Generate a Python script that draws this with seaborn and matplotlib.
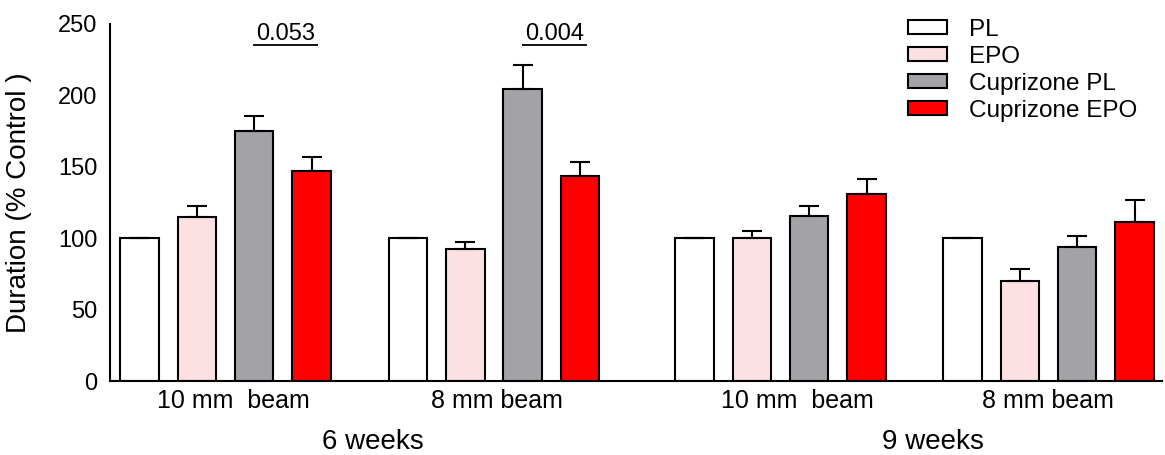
import matplotlib
matplotlib.use("Agg")
import matplotlib.pyplot as plt
import seaborn as sns
import pandas as pd
import numpy as np

# ---- data ----
treatments = ["PL", "EPO", "Cuprizone PL", "Cuprizone EPO"]
tests = ["10 mm  beam", "8 mm beam", "10 mm  beam", "8 mm beam"]
weeks = ["6 weeks", "9 weeks"]
pl_mean = [100.0, 100.0, 100.0, 100.0]
epo_mean = [114.6, 92.2, 100.4, 69.8]
cup_pl_mean = [174.8, 204.7, 115.3, 93.6]
cup_epo_mean = [147.0, 143.6, 130.7, 111.6]
pl_err = [0.4, 0.4, 0.4, 0.4]
epo_err = [7.9, 5.4, 4.9, 8.6]
cup_pl_err = [11.0, 16.8, 7.5, 8.2]
cup_epo_err = [10.0, 9.8, 10.8, 14.9]
p_labels = ["0.053", "0.004"]
y_ticks = [0, 50, 100, 150, 200, 250]

# ---- layout (axis in pixel-like units) ----
group_pos = [225.5, 494.0, 780.5, 1048.5]
label_pos = [233, 497, 797, 1048]
weeks_pos = [373, 933]
colors = ["#FFFFFF", "#FDE0E2", "#A3A2A7", "#FF0000"]

means = [pl_mean, epo_mean, cup_pl_mean, cup_epo_mean]
errs = [pl_err, epo_err, cup_pl_err, cup_epo_err]

rows = []
for t, m in zip(treatments, means):
    for g, v in enumerate(m):
        rows.append({"pos": group_pos[g], "value": v, "treatment": t})
df = pd.DataFrame(rows)

sns.set_style("white")
plt.rcParams["font.family"] = ["Liberation Sans", "DejaVu Sans"]
plt.rcParams["text.color"] = "black"
plt.rcParams["axes.labelcolor"] = "black"
plt.rcParams["xtick.color"] = "black"
plt.rcParams["ytick.color"] = "black"

fig = plt.figure(figsize=(11.65, 4.55), dpi=100)
ax = fig.add_axes([110 / 1165, 74 / 455, 1052 / 1165, 357 / 455])

sns.barplot(data=df, x="pos", y="value", hue="treatment", hue_order=treatments,
            native_scale=True, width=230 / 268.5, gap=0.33, palette=colors,
            saturation=1, edgecolor="black", linewidth=1.5, errorbar=None,
            legend=True, ax=ax)

# error bars (upper only)
centers = {}
for ti, cont in enumerate(ax.containers[:4]):
    patches = sorted(cont.patches, key=lambda p: p.get_x())
    for gi, p in enumerate(patches):
        xc = p.get_x() + p.get_width() / 2
        centers[(ti, gi)] = xc
        ax.errorbar(xc, p.get_height(), yerr=[[0], [errs[ti][gi]]], fmt="none",
                    ecolor="black", elinewidth=1.5, capsize=7, capthick=1.5, zorder=1)

# p-value annotations
for gi, lab in enumerate(p_labels):
    xm = (centers[(2, gi)] + centers[(3, gi)]) / 2 + 3
    ax.text(xm, 239.1, lab, ha="center", va="baseline", fontsize=17)
    ax.plot([xm - 32.5, xm + 32.5], [235.3, 235.3], color="black", lw=1.3,
            solid_capstyle="butt", clip_on=False)

ax.set_xlim(110, 1162)
ax.set_ylim(0, 250)
ax.set_yticks(y_ticks)
ax.set_xticks(label_pos)
ax.set_xticklabels(tests, fontsize=18)
ax.tick_params(axis="x", length=0, pad=6)
ax.tick_params(axis="y", length=7, width=1.5, labelsize=17, pad=2, direction="out")
ax.set_xlabel("")
ax.set_ylabel("Duration (% Control )", fontsize=20)
ax.yaxis.set_label_coords(-0.074, 0.5)
for s in ["top", "right"]:
    ax.spines[s].set_visible(False)
for s in ["left", "bottom"]:
    ax.spines[s].set_linewidth(1.5)
    ax.spines[s].set_color("black")

for wp, wl in zip(weeks_pos, weeks):
    ax.text(wp, -0.135, wl, transform=ax.get_xaxis_transform(), ha="center",
            va="top", fontsize=20)

handles, labels = ax.get_legend_handles_labels()
ax.legend(handles[:4], labels[:4], frameon=False, loc="upper left",
          bbox_to_anchor=(908 / 1165, 1 - 19 / 455), bbox_transform=fig.transFigure,
          fontsize=17.5, handlelength=1.6, handleheight=0.5, handletextpad=0.9,
          labelspacing=0.2, borderpad=0, borderaxespad=0)

fig.savefig("out.png", dpi=100)
